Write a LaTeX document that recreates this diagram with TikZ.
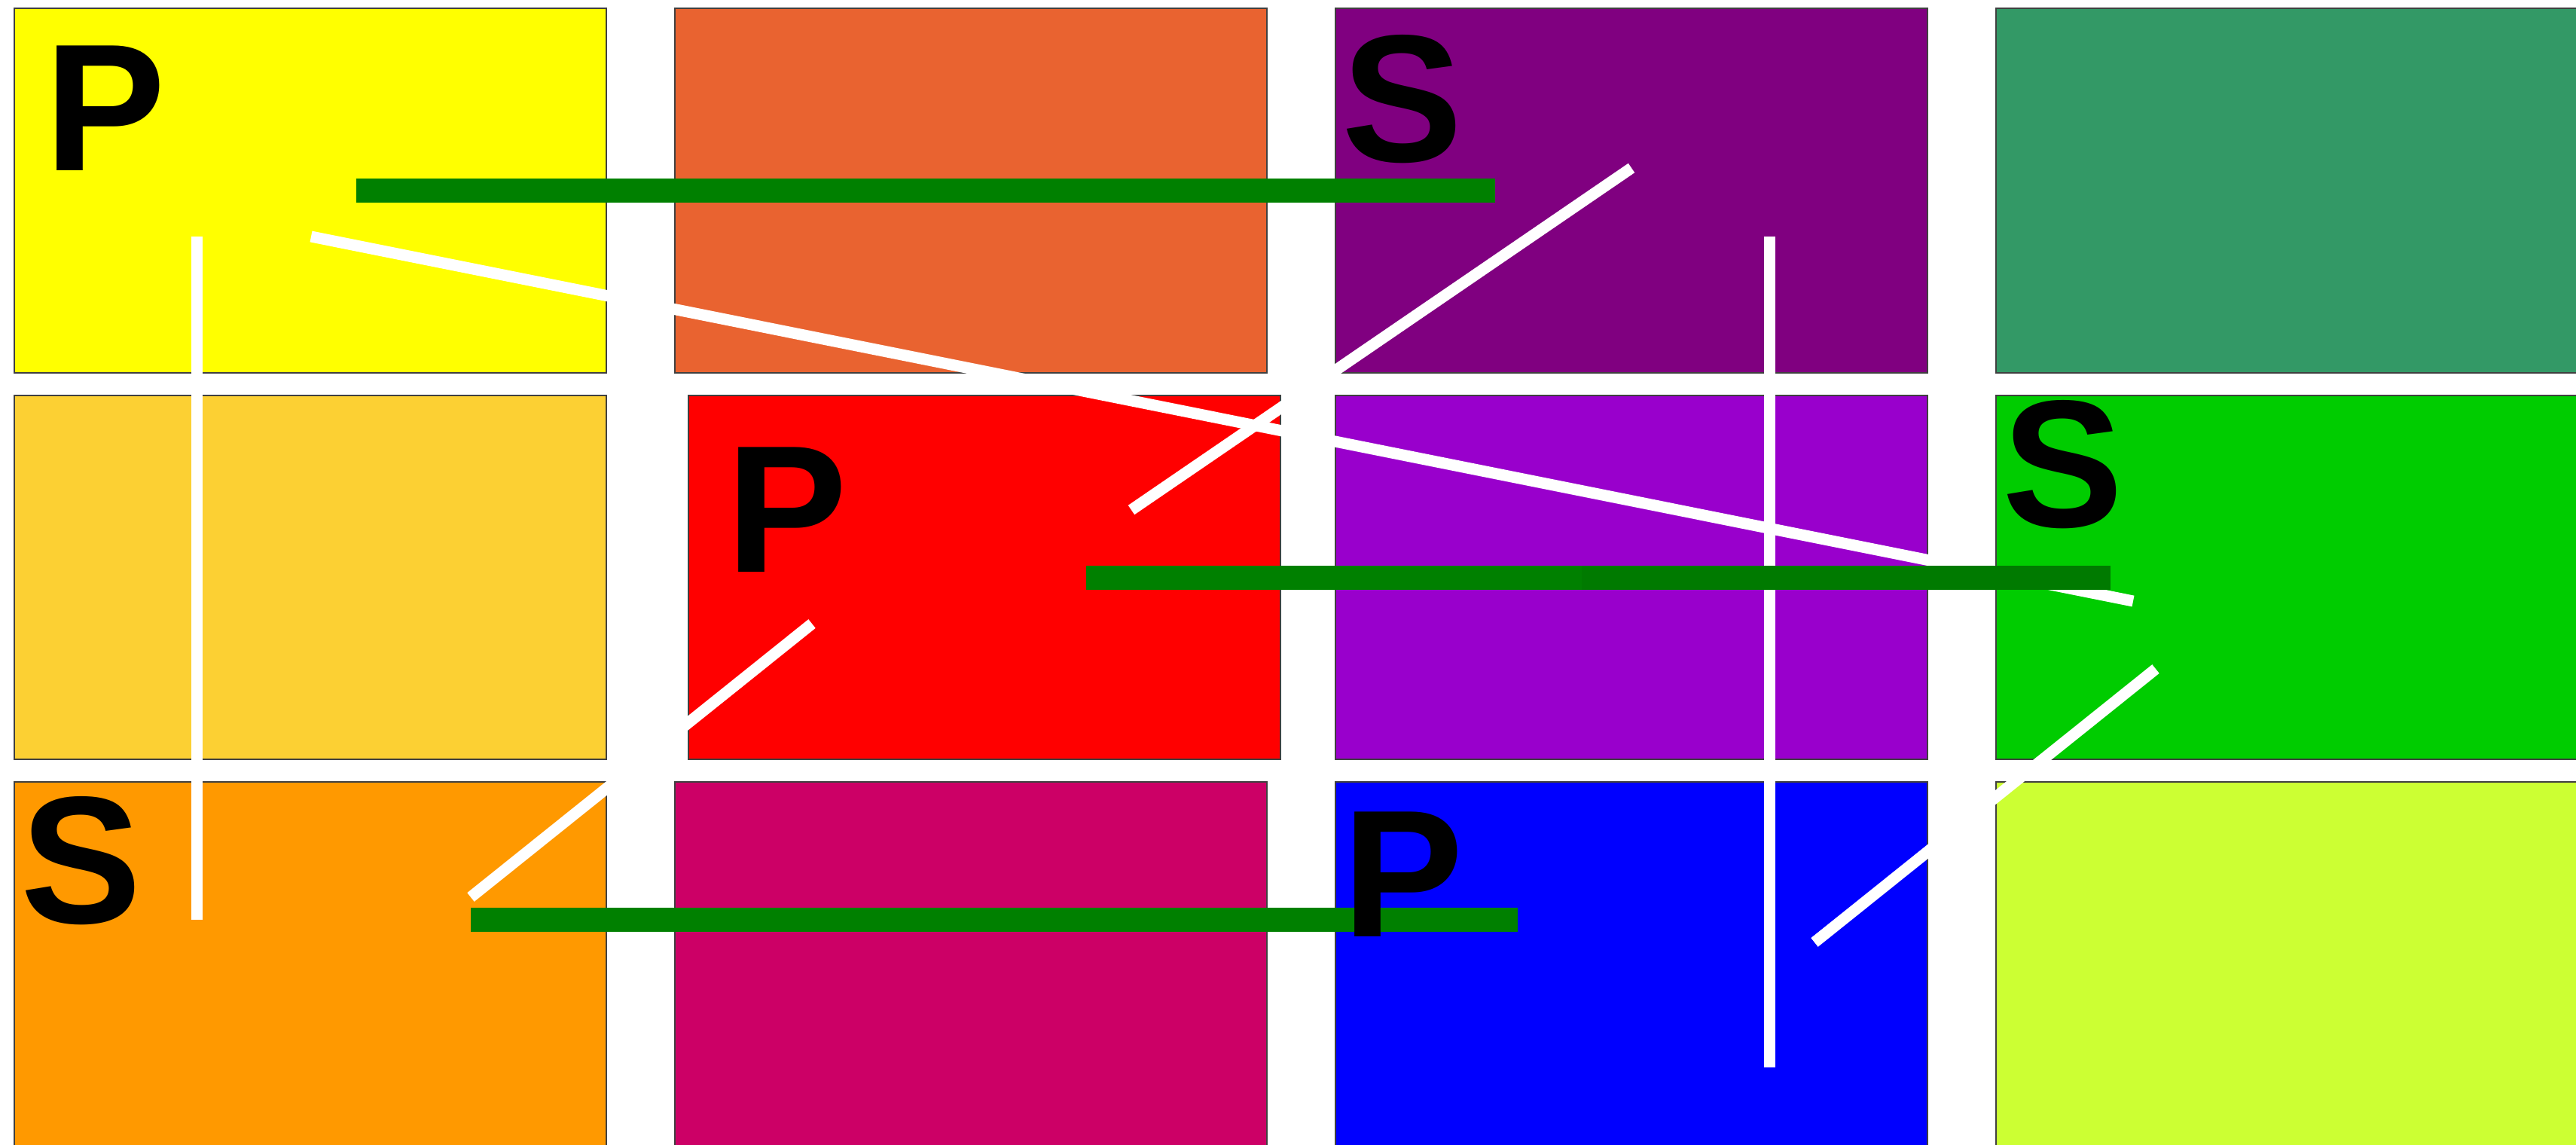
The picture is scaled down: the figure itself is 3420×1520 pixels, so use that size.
\documentclass[tikz,border=0pt]{standalone}
\usepackage{fontspec}
\setmainfont{Liberation Sans}
\definecolor{cyellow}{HTML}{FFFF00}
\definecolor{corange}{HTML}{E96330}
\definecolor{cpurple}{HTML}{800080}
\definecolor{cseagreen}{HTML}{339966}
\definecolor{cgold}{HTML}{FCD033}
\definecolor{cred}{HTML}{FF0000}
\definecolor{cviolet}{HTML}{9900CC}
\definecolor{cgreen}{HTML}{00CC00}
\definecolor{camber}{HTML}{FF9900}
\definecolor{ccrimson}{HTML}{CC0066}
\definecolor{cblue}{HTML}{0000FF}
\definecolor{clime}{HTML}{CCFF33}
\definecolor{cbar}{HTML}{008000}
\definecolor{cbardark}{HTML}{007A00}
\begin{document}
\begin{tikzpicture}[x=0.1mm,y=-0.1mm,
    tile/.style={draw=black!75,line width=0.15mm},
    ray/.style={white,line width=1.5mm},
    bar/.style={cbar,line width=3.2mm},
    letter/.style={inner sep=0pt,anchor=base west,font=\fontsize{68.5}{68.5}\selectfont\bfseries}]
      \clip (0,0) rectangle (3420,1520);
      \fill[white] (0,0) rectangle (3420,1520);
      % tiles, row by row
      \filldraw[tile,fill=cyellow] (19,11) rectangle (805,495);
      \filldraw[tile,fill=corange] (896,11) rectangle (1682,495);
      \filldraw[tile,fill=cpurple] (1773,11) rectangle (2559,495);
      \filldraw[tile,fill=cseagreen] (2650,11) rectangle (3500,495);
      \filldraw[tile,fill=cgold] (19,525) rectangle (805,1008);
      \filldraw[tile,fill=cred] (914,525) rectangle (1700,1008);
      \filldraw[tile,fill=cviolet] (1773,525) rectangle (2559,1008);
      \filldraw[tile,fill=cgreen] (2650,525) rectangle (3500,1008);
      \filldraw[tile,fill=camber] (19,1038) rectangle (805,1600);
      \filldraw[tile,fill=ccrimson] (896,1038) rectangle (1682,1600);
      \filldraw[tile,fill=cblue] (1773,1038) rectangle (2559,1600);
      \filldraw[tile,fill=clime] (2650,1038) rectangle (3500,1600);
      % white rays
      \draw[ray] (261,314) -- (261,1221);
      \draw[ray] (413,314) -- (2832,798);
      \draw[ray] (1502,677) -- (2166,223);
      \draw[ray] (625,1191) -- (1078,828);
      \draw[ray] (2349,314) -- (2349,1417);
      \draw[ray] (2409,1251) -- (2862,888);
      % green bars
      \draw[bar] (473,253) -- (1985,253);
      \draw[bar] (1442,767) -- (2100,767);
      \draw[bar,cbardark] (2100,767) -- (2802,767);
      \draw[bar] (625,1221) -- (2015,1221);
      % letters
      \node[letter] (p1) at (59,227) {P};
      \node[letter] (s1) at (1781,215) {S};
      \node[letter] (p2) at (964,759) {P};
      \node[letter] (s2) at (2658,699) {S};
      \node[letter] (s3) at (27,1225) {S};
      \node[letter] (p3) at (1782,1243) {P};
    \end{tikzpicture}
\end{document}
